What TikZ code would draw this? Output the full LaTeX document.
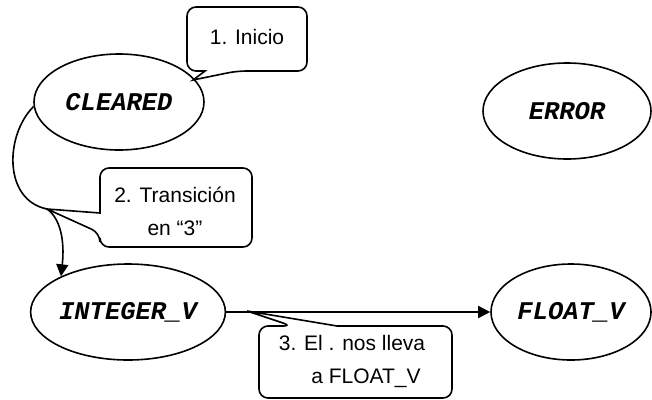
\documentclass[tikz,border=0pt]{standalone}
\usepackage{fontspec}
\setmainfont{Liberation Sans}
\newfontfamily\monob{Liberation Mono}
\usetikzlibrary{shapes.geometric,arrows.meta}
\begin{document}
\begin{tikzpicture}[x=1pt,y=-1pt,
  state/.style={ellipse,draw,line width=1.6pt,inner sep=0pt,minimum height=96pt,
    font=\monob\bfseries\itshape\fontsize{25.5}{28}\selectfont},
  calltext/.style={align=center,inner sep=0pt,font=\fontsize{21}{33}\selectfont},
  callout/.style={draw,line width=1.6pt,fill=white,rounded corners=9pt},
  conn/.style={line width=1.6pt,-{Triangle[length=12pt,width=12pt]}}]
\useasboundingbox (0,0) rectangle (652,399);
\node[state,minimum width=170pt] (C) at (119,102) {CLEARED};
\node[state,minimum width=168pt] (E) at (567,111) {ERROR};
\node[state,minimum width=168pt] (I) at (128,312) {INTEGER\_V};
\node[state,minimum width=160pt] (F) at (571,312) {FLOAT\_V};
% transitions
\coordinate (m) at (47,209);
\draw[conn] (C.183) .. controls (5,135) and (3,200) .. (m) .. controls (60,218) and (65,240) .. (I.152);
\draw[conn] (I.east) -- (F.west);
% callout 1
\draw[callout] (205,71) -- (187,71) -- (187,7) -- (307,7) -- (307,71) -- (237,71) [sharp corners] -- (193,80) -- cycle;
\node[calltext] (t1) at (247,37) {1. Inicio};
% callout 2
\draw[callout] (100,213) -- (100,168) -- (252,168) -- (252,247) -- (100,247) -- (100,233) [sharp corners] -- (m) -- cycle;
\node[calltext] (t2) at (175,211) {2. Transición\\en “3”};
% callout 3
\coordinate (p3) at (247,311);
\draw[callout] (337,326) -- (452,326) -- (452,398) -- (259,398) -- (259,326) -- (292,326) [sharp corners] -- (p3) -- cycle;
\node[calltext] (t3) at (352,361) {3. El . nos lleva\\\hspace*{28pt}a FLOAT\_V};
\end{tikzpicture}
\end{document}
